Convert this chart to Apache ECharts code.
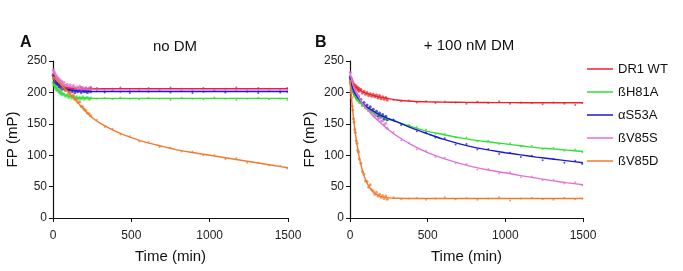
<!DOCTYPE html>
<html><head><meta charset="utf-8">
<script src="https://cdn.jsdelivr.net/npm/echarts@6/dist/echarts.min.js"></script>
<style>html,body{margin:0;padding:0;background:#fff}#c{width:683px;height:271px}</style>
</head><body><div id="c"></div>
<script>
// ---- data ----
const seriesNames = ['DR1 WT','ßH81A','αS53A','ßV85S','ßV85D'];
const xTicks = [0,500,1000,1500];
const yTicks = [0,50,100,150,200,250];
// time points of fitted curves (min)
const fitT = [0,10,20,30,40,50,60,75,100,125,150,175,200,250,300,400,500,600,700,800,900,1000,1100,1200,1300,1400,1500];
// time points of measured data (min)
const ptsT = [2,6,10,14,18,22,26,30,35,40,45,50,55,60,70,80,90,100,110,120,130,140,150,160,170,180,190,200,210,220,230,240,
              280,330,380,430,490,550,610,680,750,820,890,960,1030,1100,1170,1240,1310,1380,1450,1495];

// Panel A: no DM — fits
const fitA_WT   = [228,223,218,215,212.5,210.5,209,207.5,206.5,206.2,206,206,206,206,206,206,206,206,206,206,206,206,206,206,206,206,206];
const fitA_H81A = [215,210.5,207,204,201.5,199.3,197.7,196,194,192.8,192,191.4,191,190.5,190.5,190.5,190.5,190.5,190.5,190.5,190.5,190.5,190.5,190.5,190.5,190.5,190.5];
const fitA_S53A = [228,222.5,218,214.5,212,210,208.5,206,204,203,202.5,202.2,202,201.5,201.5,201.5,201.5,201.5,201.5,201.5,201.5,201.5,201.5,201.5,201.5,201.5,201.5];
const fitA_V85S = [235,230,226,222.5,219.5,217,215,212.5,210,208.3,207,206,205.5,205,204.5,204,204,204,204,204,204,204,204,204,204,204,204];
const fitA_V85D = [225,223,220,217.5,215,212,209.5,206,200,193,186,179,172,160,151,138,128,120,114,108,104,100,96,92,88,84,80];
// Panel A: measured points
const ptsA_WT   = [229,224,224,219,221,216,218,214,215,211,213,209,211,208,209,206,208,205,207,205,208,206,204,207,205,208,206,205,207,204,206,208,
                   207,205,206,208,204,206,207,205,208,206,205,207,204,206,208,205,207,206,205,207];
const ptsA_H81A = [216,212,211,207,209,204,207,203,204,200,202,198,200,196,198,194,196,192,195,191,194,190,193,189,192,190,193,189,191,192,189,191,
                   190,191,189,192,190,189,191,190,188,191,190,189,192,190,188,190,191,189,190,188];
const ptsA_S53A = [227,222,221,216,219,214,216,212,213,209,211,207,209,205,207,204,206,202,205,201,204,200,203,201,204,200,203,201,202,200,203,201,
                   202,200,203,201,199,202,201,203,200,202,199,201,203,200,202,201,199,202,200,201];
const ptsA_V85S = [236,230,232,225,228,222,225,219,222,217,220,214,218,212,216,210,213,208,212,207,211,206,209,205,210,204,208,205,207,203,207,204,
                   205,203,204,206,203,205,204,202,205,204,203,205,204,202,205,203,204,205,203,204];
const ptsA_V85D = [227,222,225,220,223,218,221,216,218,213,216,210,213,207,209,203,205,198,200,194,196,189,190,184,185,178,177,173,171,167,166,163,
                   156,145,142,133,130,122,121,113,112,106,106,100,100,94,95,88,88,84,83,79];

// Panel B: + 100 nM DM — fits
const fitB_WT   = [226,218,213,210,208,206,204.5,202,199,197,195,193.5,192,190,188,186,185,184.5,184.2,184,183.8,183.7,183.6,183.5,183.5,183.5,183.5];
const fitB_H81A = [222,210,202,196,191.5,188,185,181,176,172,168,165,162,157,153,145,138,133,128,124,121,118,115,112,110,108,106];
const fitB_S53A = [225,212,205,199,195.5,192,189,184.5,178,174,170,166.5,163,158,153.5,143,134,125.5,118.5,112.5,108,104,100.5,97,94,91,88];
const fitB_V85S = [232,220,212,205,200,195,191,184,176,169,162,156.5,151,140,131,116,104,95,87.5,81,76,72,67.5,63.5,59.5,56,53];
const fitB_V85D = [220,190,165,143,125,110,96,80,61,49,41,37,34,32,31.5,31,31,31,31,31,31,31,31,31,31,31,31];
// Panel B: measured points
const ptsB_WT   = [225,219,221,215,217,211,213,208,211,206,209,204,207,202,205,199,202,197,200,195,198,194,197,193,196,191,195,190,193,189,192,188,
                   188,186,187,184,186,183,185,184,182,185,183,186,182,184,183,181,184,182,180,183];
const ptsB_H81A = [220,212,212,204,205,199,200,194,195,190,191,187,188,184,184,179,180,175,176,171,173,168,169,165,167,162,164,160,162,157,160,156,
                   156,149,148,145,141,134,134,128,128,122,123,118,119,114,115,110,112,107,109,105];
const ptsB_S53A = [223,215,214,207,209,202,204,197,199,193,196,191,193,188,189,182,184,178,180,174,177,171,173,167,170,163,167,162,165,158,162,157,
                   157,148,147,138,137,128,127,117,118,109,110,102,104,97,99,92,94,88,91,86];
const ptsB_V85S = [232,223,223,214,216,208,210,203,205,198,200,195,195,189,189,180,181,177,175,171,172,168,169,163,164,158,159,154,155,149,151,143,
                   137,124,120,109,107,97,96,87,86,77,78,71,73,65,66,60,61,55,57,52];
const ptsB_V85D = [216,200,192,178,172,158,153,141,136,123,119,108,105,94,87,74,70,59,58,49,53,45,43,38,41,35,38,33,36,31,35,30,
                   33,30,31,32,29,31,33,30,32,29,31,33,28,31,32,30,29,32,30,31];

// ---- build ----
const colors = ['#e8262d','#33dd33','#1a1ad0','#e070d4','#f07a2e'];
const fitsA = [fitA_WT,fitA_H81A,fitA_S53A,fitA_V85S,fitA_V85D];
const fitsB = [fitB_WT,fitB_H81A,fitB_S53A,fitB_V85S,fitB_V85D];
const ptsA = [ptsA_WT,ptsA_H81A,ptsA_S53A,ptsA_V85S,ptsA_V85D];
const ptsB = [ptsB_WT,ptsB_H81A,ptsB_S53A,ptsB_V85S,ptsB_V85D];
const zip = (ts, vs) => ts.map((t,i)=>[t, vs[i]]);
const FONT = 'Liberation Sans, Arial, sans-serif';

function axisX(grid){
  return {type:'value', gridIndex:grid, min:0, max:1500, interval:500,
    name:'Time (min)', nameLocation:'middle', nameGap:31,
    nameTextStyle:{fontSize:15, color:'#111', fontFamily:FONT},
    axisLine:{lineStyle:{color:'#111', width:1.2}},
    axisTick:{length:4, lineStyle:{color:'#111'}},
    axisLabel:{fontSize:12, color:'#222', margin:12, fontFamily:FONT,
      formatter:v=> xTicks.includes(v) ? String(v) : ''},
    splitLine:{show:false}};
}
function axisY(grid){
  return {type:'value', gridIndex:grid, min:0, max:250, interval:50,
    name:'FP (mP)', nameLocation:'middle', nameGap:33, nameRotate:90,
    nameTextStyle:{fontSize:15, color:'#111', fontFamily:FONT},
    axisLine:{show:true, lineStyle:{color:'#111', width:1.2}},
    axisTick:{show:true, length:4, lineStyle:{color:'#111'}},
    axisLabel:{fontSize:12, color:'#222', margin:6, fontFamily:FONT,
      formatter:v=> yTicks.includes(v) ? String(v) : ''},
    splitLine:{show:false}};
}

const series = [];
[[ptsA,fitsA,0],[ptsB,fitsB,1]].forEach(([P,F,g])=>{
  seriesNames.forEach((name,i)=>{
    series.push({type:'scatter', name, xAxisIndex:g, yAxisIndex:g, data:zip(ptsT,P[i]),
      symbolSize:v=> v[0] <= 250 ? 3 : 2, itemStyle:{color:colors[i], opacity:0.75}, silent:true, z:2});
  });
  seriesNames.forEach((name,i)=>{
    series.push({type:'line', name, xAxisIndex:g, yAxisIndex:g, data:zip(fitT,F[i]),
      smooth:0.3, showSymbol:false, lineStyle:{color:colors[i], width:1.4}, itemStyle:{color:colors[i]}, z:3});
  });
});

const chart = echarts.init(document.getElementById('c'), null, {renderer:'canvas'});
chart.setOption({
  animation:false,
  backgroundColor:'#fff',
  grid:[{left:53, right:395, top:61, bottom:53},{left:350, right:100, top:61, bottom:53}],
  xAxis:[axisX(0), axisX(1)],
  yAxis:[axisY(0), axisY(1)],
  legend:{orient:'vertical', left:587, top:62, padding:0, icon:'rect', itemWidth:26, itemHeight:2, itemGap:9,
    data:seriesNames.map((n,i)=>({name:n, itemStyle:{color:colors[i]}})),
    textStyle:{fontSize:13, color:'#111', fontFamily:FONT, lineHeight:14}, selectedMode:false},
  graphic:[
    {type:'text', left:20, top:35, style:{text:'A', font:'bold 16px '+FONT, fill:'#111'}},
    {type:'text', left:315, top:35, style:{text:'B', font:'bold 16px '+FONT, fill:'#111'}},
    {type:'text', x:175, y:47, style:{text:'no DM', font:'15px '+FONT, fill:'#111', align:'center', verticalAlign:'middle'}},
    {type:'text', x:469, y:46, style:{text:'+ 100 nM DM', font:'15px '+FONT, fill:'#111', align:'center', verticalAlign:'middle'}}
  ],
  series
});
</script></body></html>
